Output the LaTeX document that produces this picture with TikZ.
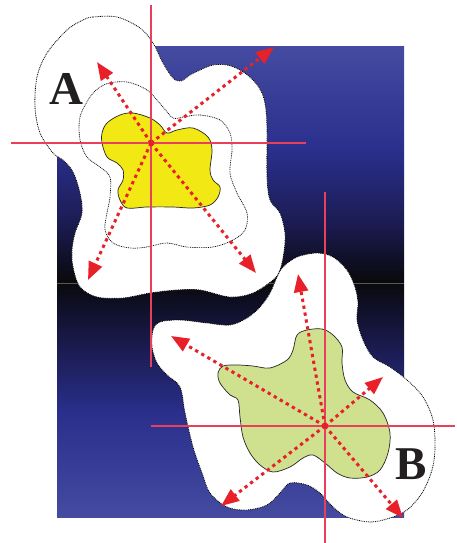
\documentclass[tikz,border=0pt]{standalone}
\usepackage{fontspec}
\setmainfont{Liberation Serif}
\usetikzlibrary{arrows.meta}
\definecolor{bgtop}{RGB}{68,75,160}
\definecolor{bgmid}{RGB}{42,47,140}
\definecolor{bgdark}{RGB}{27,27,80}
\definecolor{bgdeep}{RGB}{14,14,34}
\definecolor{bgblack}{RGB}{10,10,12}
\definecolor{hairred}{RGB}{232,64,90}
\definecolor{arrred}{RGB}{232,32,42}
\definecolor{yel}{RGB}{242,233,20}
\definecolor{grn}{RGB}{207,224,143}
\definecolor{lbl}{RGB}{35,31,32}
\pgfdeclareverticalshading{bgshade}{100bp}{%
  color(0bp)=(bgtop); color(25bp)=(bgtop); color(36bp)=(bgmid);
  color(43bp)=(bgdark); color(48bp)=(bgdeep); color(50bp)=(bgblack);
  color(52bp)=(bgdeep); color(56bp)=(bgdark); color(64bp)=(bgmid);
  color(75bp)=(bgtop); color(100bp)=(bgtop)}
\tikzset{
  blob/.style={fill=white, draw=black, line width=0.8pt, dash pattern=on 0.9pt off 0.9pt},
  contour/.style={draw=black, line width=0.7pt, dash pattern=on 0.9pt off 0.9pt},
  region/.style={draw=black!85, line width=0.7pt},
  hair/.style={draw=hairred, line width=1.2pt},
  ray/.style={draw=arrred, line width=3pt, dash pattern=on 3.3pt off 3.7pt,
    -{Triangle[length=18pt,width=14pt]}},
  letter/.style={text=lbl, font=\bfseries\fontsize{47}{47}\selectfont, inner sep=0pt}
}
\begin{document}
\begin{tikzpicture}[x=1pt,y=-1pt]
\useasboundingbox (0,0) rectangle (457,543);
% background
\shade[shading=bgshade] (57,47) rectangle (404,517);
\draw[line width=1pt, black!65] (57,283) -- (404,283);
% white blobs
\draw[blob] plot[smooth cycle, tension=0.55] coordinates {
 (83,20) (93,17) (117,17) (140,28) (153,43) (163,63) (173,78) (181,81)
 (190,75) (200,70) (213,65) (227,65) (240,70) (253,80) (262,93) (266,110)
 (267,133) (267,177) (270,200) (280,213) (285,233) (284,252) (280,270)
 (273,280) (253,293) (230,297) (200,290) (177,290) (150,293) (123,298)
 (97,297) (80,287) (73,267) (72,250) (75,233) (82,213) (80,193) (73,172)
 (63,160) (53,153) (40,133) (35,107) (37,77) (47,53) (67,30)};
\draw[blob] plot[smooth cycle, tension=0.55] coordinates {
 (283,267) (297,257) (317,253) (333,257) (347,270) (355,287) (358,303)
 (357,320) (363,340) (373,357) (390,367) (407,380) (423,397) (433,420)
 (435,447) (432,470) (422,493) (407,510) (390,518) (370,522) (347,517)
 (333,507) (320,493) (307,485) (290,483) (280,493) (267,505) (247,510)
 (227,507) (210,493) (202,473) (193,447) (185,413) (180,387) (167,375)
 (157,363) (152,347) (153,330) (160,322) (180,320) (207,323) (230,325)
 (247,318) (260,307) (270,293) (277,277)};
% inner contour A
\draw[contour] plot[smooth cycle, tension=0.55] coordinates {
 (100,87) (110,83) (127,82) (147,90) (163,107) (173,118) (183,117) (200,115)
 (220,120) (230,133) (232,150) (230,173) (237,193) (247,213) (245,230)
 (233,240) (213,247) (187,247) (167,243) (147,247) (130,248) (113,243)
 (105,230) (107,213) (110,197) (110,177) (100,167) (87,157) (80,140)
 (80,117) (90,97)};
% regions
\draw[region, fill=yel] plot[smooth cycle, tension=0.55] coordinates {
 (107,123) (120,115) (133,113) (150,118) (160,125) (167,133) (177,130)
 (193,128) (208,137) (212,150) (210,170) (213,180) (220,187) (218,197)
 (210,205) (193,208) (173,207) (147,207) (127,208) (120,200) (118,190)
 (123,180) (123,170) (117,163) (107,157) (102,143) (102,133)};
\draw[region, fill=grn] plot[smooth cycle, tension=0.55] coordinates {
 (297,335) (307,330) (322,329) (333,335) (342,347) (342,363) (345,380)
 (353,392) (370,400) (383,413) (390,433) (388,453) (380,470) (367,477)
 (350,478) (337,473) (325,463) (313,455) (303,458) (290,467) (273,472)
 (260,465) (250,453) (243,437) (240,417) (238,400) (230,395) (220,383)
 (218,373) (223,366) (237,365) (253,366) (270,368) (287,360) (293,350)};
% crosshairs
\coordinate (ca) at (151,143);
\coordinate (cb) at (325,426);
\coordinate (aT) at (151,5);   \coordinate (aB) at (151,367);
\coordinate (aL) at (11,143);  \coordinate (aR) at (306,143);
\coordinate (bT) at (325,192); \coordinate (bB) at (325,543);
\coordinate (bL) at (151,426); \coordinate (bR) at (455,426);
\draw[hair] (aT) -- (aB);
\draw[hair] (aL) -- (aR);
\draw[hair] (bT) -- (bB);
\draw[hair] (bL) -- (bR);
% rays A
\coordinate (a1) at (97,62);
\coordinate (a2) at (256,273);
\coordinate (a3) at (88,280);
\coordinate (a4) at (274,47);
\foreach \t in {a1,a2,a3,a4} \draw[ray] (ca) -- (\t);
% rays B
\coordinate (b1) at (298,274);
\coordinate (b2) at (171,336);
\coordinate (b3) at (383,377);
\coordinate (b4) at (221,506);
\coordinate (b5) at (403,518);
\foreach \t in {b1,b2,b3,b4,b5} \draw[ray] (cb) -- (\t);
% labels
\node[letter] (la) at (66,89) {A};
\node[letter] (lb) at (411,464) {B};
\end{tikzpicture}
\end{document}
